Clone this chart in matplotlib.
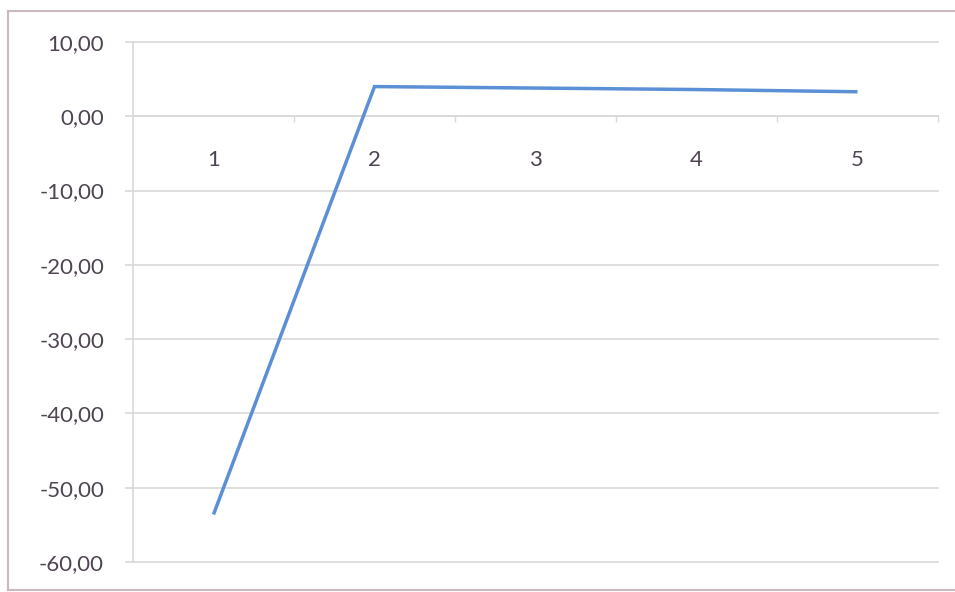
import matplotlib
matplotlib.use("Agg")
import matplotlib.pyplot as plt
from matplotlib.ticker import FixedLocator, FuncFormatter
from matplotlib.lines import Line2D

# Series values
categories = [1, 2, 3, 4, 5]
values = [-53.6, 4.0, 3.8, 3.6, 3.3]
y_ticks = [10, 0, -10, -20, -30, -40, -50, -60]

TEXT = "#4e4452"
GRID = "#d9d9d9"
LINE = "#5b8fd6"
FRAME = "#cbb8c0"

plt.rcParams["font.family"] = ["Lato", "DejaVu Sans"]

W, H = 955, 592
fig = plt.figure(figsize=(W / 100, H / 100), dpi=100)
fig.patch.set_facecolor("white")

# Chart-area frame: left, top and bottom edges
fx0, fy_top, fy_bot = 8 / W, 1 - 11 / H, 1 - 590 / H
for xs, ys in (([fx0, fx0], [fy_bot, fy_top]),
               ([fx0, 1.0], [fy_top, fy_top]),
               ([fx0, 1.0], [fy_bot, fy_bot])):
    fig.add_artist(Line2D(xs, ys, transform=fig.transFigure, color=FRAME, linewidth=1.5))

left, right, top, bottom = 133, 938, 42, 562
ax = fig.add_axes([left / W, 1 - bottom / H, (right - left) / W, (bottom - top) / H])
ax.set_facecolor("none")

ax.plot(categories, values, color=LINE, linewidth=2.5, solid_capstyle="butt",
        solid_joinstyle="miter", zorder=3)

ax.set_xlim(0.5, 5.5)
ax.set_ylim(-60, 10)

# Horizontal gridlines
ax.yaxis.set_major_locator(FixedLocator(y_ticks))
ax.yaxis.set_major_formatter(FuncFormatter(lambda v, _: f"{v:.2f}".replace(".", ",")))
ax.grid(axis="y", color=GRID, linewidth=1.2, zorder=0)
for gl in ax.get_ygridlines():
    gl.set_clip_on(False)
ax.set_axisbelow(True)

for s in ("top", "right"):
    ax.spines[s].set_visible(False)
ax.spines["left"].set_color(GRID)
ax.spines["left"].set_linewidth(1.2)
ax.spines["bottom"].set_position(("data", 0))
ax.spines["bottom"].set_color(GRID)
ax.spines["bottom"].set_linewidth(1.2)

ax.tick_params(axis="y", length=5.8, width=1.2, color=GRID, pad=15,
               labelsize=16, labelcolor=TEXT)

# Category labels below the zero line, tick marks between categories
ax.xaxis.set_major_locator(FixedLocator(categories))
ax.set_xticklabels([str(c) for c in categories])
ax.xaxis.set_minor_locator(FixedLocator([1.5, 2.5, 3.5, 4.5, 5.5]))
ax.tick_params(axis="x", which="major", length=0, pad=24, labelsize=16, labelcolor=TEXT)
ax.tick_params(axis="x", which="minor", length=4, width=1.0, color=GRID, direction="out")

fig.savefig("out.png", dpi=100)
